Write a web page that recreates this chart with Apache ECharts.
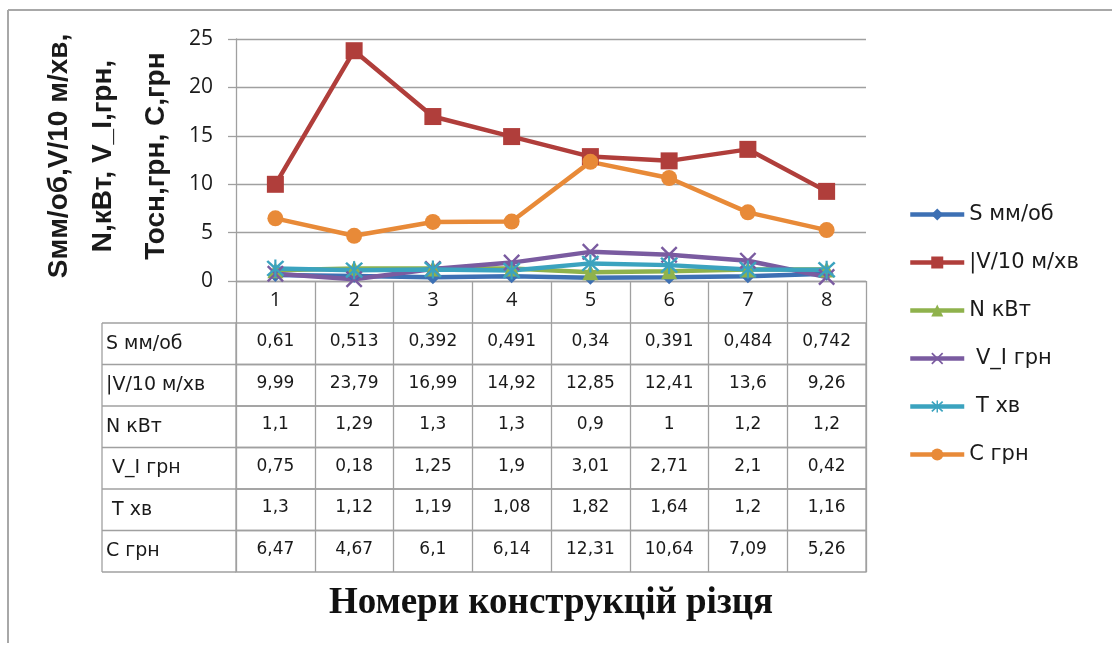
<!DOCTYPE html>
<html>
<head>
<meta charset="utf-8">
<script src="https://cdn.jsdelivr.net/npm/echarts@6/dist/echarts.min.js"></script>
<style>
html,body{margin:0;padding:0;background:#fff;}
#chart{width:1112px;height:645px;}
</style>
</head>
<body>
<div id="chart"></div>
<script>
// ---- data ----
const categories = ['1','2','3','4','5','6','7','8'];
const seriesNames = ['S мм/об', '|V/10 м/хв', 'N кВт', ' V_I грн', ' T хв', 'C грн'];
const sValues  = [0.61, 0.513, 0.392, 0.491, 0.34, 0.391, 0.484, 0.742];
const vValues  = [9.99, 23.79, 16.99, 14.92, 12.85, 12.41, 13.6, 9.26];
const nValues  = [1.1, 1.29, 1.3, 1.3, 0.9, 1, 1.2, 1.2];
const viValues = [0.75, 0.18, 1.25, 1.9, 3.01, 2.71, 2.1, 0.42];
const tValues  = [1.3, 1.12, 1.19, 1.08, 1.82, 1.64, 1.2, 1.16];
const cValues  = [6.47, 4.67, 6.1, 6.14, 12.31, 10.64, 7.09, 5.26];
const yTicks = {min: 0, max: 25, interval: 5};
const yTitleLines = ['Sмм/об,V/10 м/хв,', 'N,кВт, V_I,грн,', 'Тосн,грн, C,грн'];
const xTitle = 'Номери конструкцій різця';

// ---- styling / layout ----
const allValues = [sValues, vValues, nValues, viValues, tValues, cValues];
const colors = ['#3d70b4', '#b03e3b', '#8fb24c', '#7a5ba0', '#3ba3bf', '#e88a38'];
const xPath = 'path://M1,0 L5,4 L9,0 L10,1 L6,5 L10,9 L9,10 L5,6 L1,10 L0,9 L4,5 L0,1 Z';
const starPath = 'path://M1,0 L5,4 L9,0 L10,1 L6,5 L10,9 L9,10 L5,6 L1,10 L0,9 L4,5 L0,1 Z M4.4,-0.5 L5.6,-0.5 L5.6,10.5 L4.4,10.5 Z';
const symbols = ['diamond', 'rect', 'triangle', xPath, starPath, 'circle'];
const symbolSizes = [14, 17, 16, 17, 18, 16];

const plotLeft = 236, plotRight = 866, plotTop = 39, plotBottom = 281;
const headerBottom = 323, rowH = 41.5, tableLeft = 102;
const W = 1112;
const gridColor = '#a0a0a0';
const labelFont = 'DejaVu Sans';

function fmt(v){ return String(v).replace('.', ','); }

const grids = [{left: plotLeft, right: W - plotRight, top: plotTop, height: plotBottom - plotTop}];
const xAxes = [{
  gridIndex: 0, type: 'category', data: categories, boundaryGap: true,
  axisLine: {lineStyle: {color: gridColor, width: 1.3}},
  axisTick: {show: true, length: headerBottom - plotBottom, interval: 0, lineStyle: {color: gridColor, width: 1.3}},
  axisLabel: {margin: 9, fontFamily: 'Open Sans', fontSize: 20, color: '#1a1a1a'}
}];
const yAxes = [{
  gridIndex: 0, type: 'value', min: yTicks.min, max: yTicks.max, interval: yTicks.interval,
  axisLine: {show: true, lineStyle: {color: gridColor, width: 1.3}},
  axisTick: {show: true, length: 8, lineStyle: {color: gridColor, width: 1.3}},
  splitLine: {lineStyle: {color: gridColor, width: 1.3}},
  axisLabel: {margin: 23, fontFamily: 'Open Sans', fontSize: 21, color: '#1a1a1a'}
}];
const graphics = [];

seriesNames.forEach((name, i) => {
  const top = headerBottom + i * rowH;
  grids.push({left: plotLeft, right: W - plotRight, top: top, height: rowH, show: true, borderColor: gridColor, borderWidth: 1.3});
  const vals = allValues[i];
  xAxes.push({
    gridIndex: i + 1, type: 'category', data: categories, boundaryGap: true,
    axisLine: {show: false}, axisTick: {show: false},
    splitLine: {show: true, interval: 0, lineStyle: {color: gridColor, width: 1.3}},
    axisLabel: {margin: -31, interval: 0, fontFamily: labelFont, fontSize: 17, color: '#1a1a1a',
      formatter: (v, idx) => fmt(vals[idx])}
  });
  yAxes.push({
    gridIndex: i + 1, type: 'category', data: [name],
    axisLine: {show: false}, axisTick: {show: false}, splitLine: {show: false},
    axisLabel: {align: 'left', margin: plotLeft - tableLeft - 4, fontFamily: labelFont, fontSize: 19, color: '#1a1a1a'}
  });
});

// left column borders of the data table
for (let k = 0; k <= seriesNames.length; k++) {
  const y = headerBottom + k * rowH;
  graphics.push({type: 'line', shape: {x1: tableLeft, y1: y, x2: plotLeft, y2: y}, style: {stroke: gridColor, lineWidth: 1.3}});
}
graphics.push({type: 'line', shape: {x1: tableLeft, y1: headerBottom, x2: tableLeft, y2: headerBottom + seriesNames.length * rowH}, style: {stroke: gridColor, lineWidth: 1.3}});
// chart frame
graphics.push({type: 'line', shape: {x1: 8, y1: 10, x2: W, y2: 10}, style: {stroke: '#a8a8a8', lineWidth: 2}});
graphics.push({type: 'line', shape: {x1: 8, y1: 10, x2: 8, y2: 643}, style: {stroke: '#a8a8a8', lineWidth: 2}});
// y-axis title lines (rotated)
const titleX = [59, 103, 156];
yTitleLines.forEach((t, i) => {
  graphics.push({type: 'text', x: titleX[i], y: 156, rotation: Math.PI / 2,
    style: {text: t, fontFamily: 'Liberation Sans', fontWeight: 'bold', fontSize: 28, fill: '#1a1a1a', align: 'center', verticalAlign: 'middle'}});
});
// x title
graphics.push({type: 'text', x: 551, y: 603,
  style: {text: xTitle, fontFamily: 'Liberation Serif', fontWeight: 'bold', fontSize: 37, fill: '#111', align: 'center', verticalAlign: 'middle'}});

const series = seriesNames.map((name, i) => ({
  name: name, type: 'line', xAxisIndex: 0, yAxisIndex: 0,
  data: allValues[i], symbol: symbols[i], symbolSize: symbolSizes[i],
  showAllSymbol: true,
  lineStyle: {width: 4.5, color: colors[i]},
  itemStyle: {color: colors[i]},
  emphasis: {disabled: true},
  animation: false
}));

const chart = echarts.init(document.getElementById('chart'), null, {renderer: 'canvas'});
chart.setOption({
  animation: false,
  color: colors,
  grid: grids,
  xAxis: xAxes,
  yAxis: yAxes,
  legend: {
    orient: 'vertical', left: 903, top: 199, itemWidth: 54, itemHeight: 15, itemGap: 27,
    lineStyle: {width: 4.5},
    textStyle: {fontFamily: labelFont, fontSize: 21, color: '#1a1a1a'},
    data: seriesNames
  },
  graphic: graphics,
  series: series
});
</script>
</body>
</html>
